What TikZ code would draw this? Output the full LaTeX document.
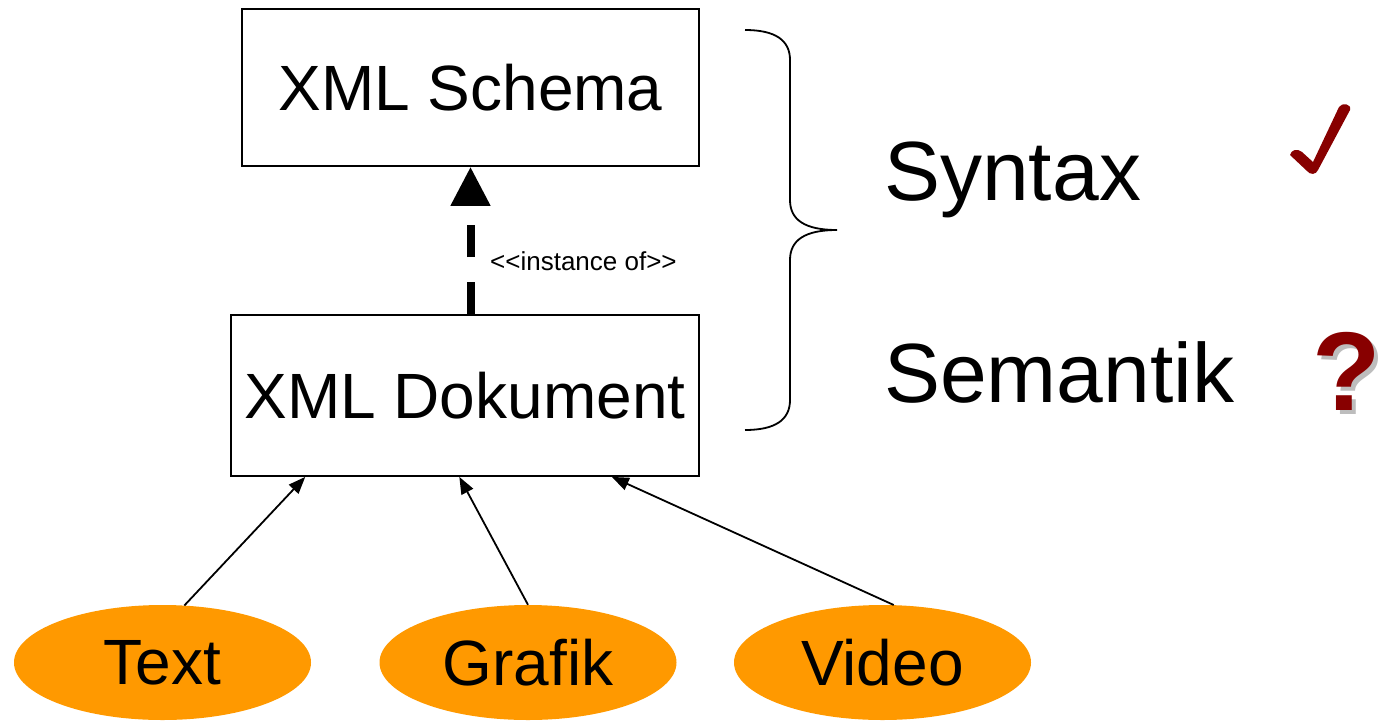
\documentclass[tikz,border=0pt]{standalone}
\usepackage{fontspec}
\setmainfont{Liberation Sans}
\usetikzlibrary{shapes.geometric,arrows.meta,calc}
\definecolor{medorange}{HTML}{FF9900}
\definecolor{darkred}{HTML}{880000}
\definecolor{shadowgray}{HTML}{BDBDBD}
\begin{document}
\begin{tikzpicture}[x=1pt,y=-1pt,
  box/.style={draw,line width=1.8pt,inner sep=0pt,font=\fontsize{64}{70}\selectfont},
  blob/.style={ellipse,fill=medorange,inner sep=0pt,minimum width=297pt,minimum height=115pt,
    font=\fontsize{64}{70}\selectfont},
  bigword/.style={anchor=base west,inner sep=0pt,font=\fontsize{84}{90}\selectfont},
  feed/.style={line width=1.8pt,-{Triangle[length=17pt,width=13pt]}},
  inst/.style={line width=8pt,dash pattern=on 32pt off 25pt,-{Triangle[length=39pt,width=38pt]}}]
\useasboundingbox (0,0) rectangle (1380,725);

% the two boxes
\node[box,minimum width=457pt,minimum height=157pt] (schema) at (470.5,87.5) {XML Schema};
\node[box,minimum width=468pt,minimum height=161pt] (dok) at (465,395.5) {XML Dokument};

% instance-of dependency
\draw[inst] (dok.north -| schema.south) -- (schema.south);
\node[anchor=base west,inner sep=0pt,font=\fontsize{26}{30}\selectfont] (lbl) at (490,270)
  {<\kern0pt<instance of>\kern0pt>};

% media sources
\node[blob] (text) at (162.5,662.5) {Text};
\node[blob] (grafik) at (528,662.5) {Grafik};
\node[blob] (video) at (882.5,662.5) {Video};

\draw[feed] (text.69) -- (dok.207);
\draw[feed] (grafik.north) -- (dok.266.5);
\draw[feed] (video.79) -- (dok.331);

% curly brace
\draw[line width=1.8pt] (745,30) .. controls (775,30) and (790,40) .. (790,60) -- (790,200)
  .. controls (790,220) and (805,230) .. (837,230)
  .. controls (805,230) and (790,240) .. (790,260) -- (790,400)
  .. controls (790,420) and (775,430) .. (745,430);

% syntax / semantics
\node[bigword] (syntax) at (884,200) {Syntax};
\node[bigword] (semantik) at (884,402) {Semantik};

% check mark
\fill[darkred] (1290,155) .. controls (1291,150) and (1297,148) .. (1302,152)
  -- (1313,162) -- (1339,107) .. controls (1342,102) and (1352,104) .. (1350,110)
  -- (1318,170) .. controls (1316,175) and (1310,175) .. (1307,171) -- cycle;

% question mark with a drop shadow
\node[anchor=base west,inner sep=0pt,font=\bfseries\fontsize{112}{120}\selectfont] (quest) at (1312,410)
  {\rlap{\kern4pt\raisebox{-4pt}{\color{shadowgray}?}}\color{darkred}?};
\end{tikzpicture}
\end{document}
